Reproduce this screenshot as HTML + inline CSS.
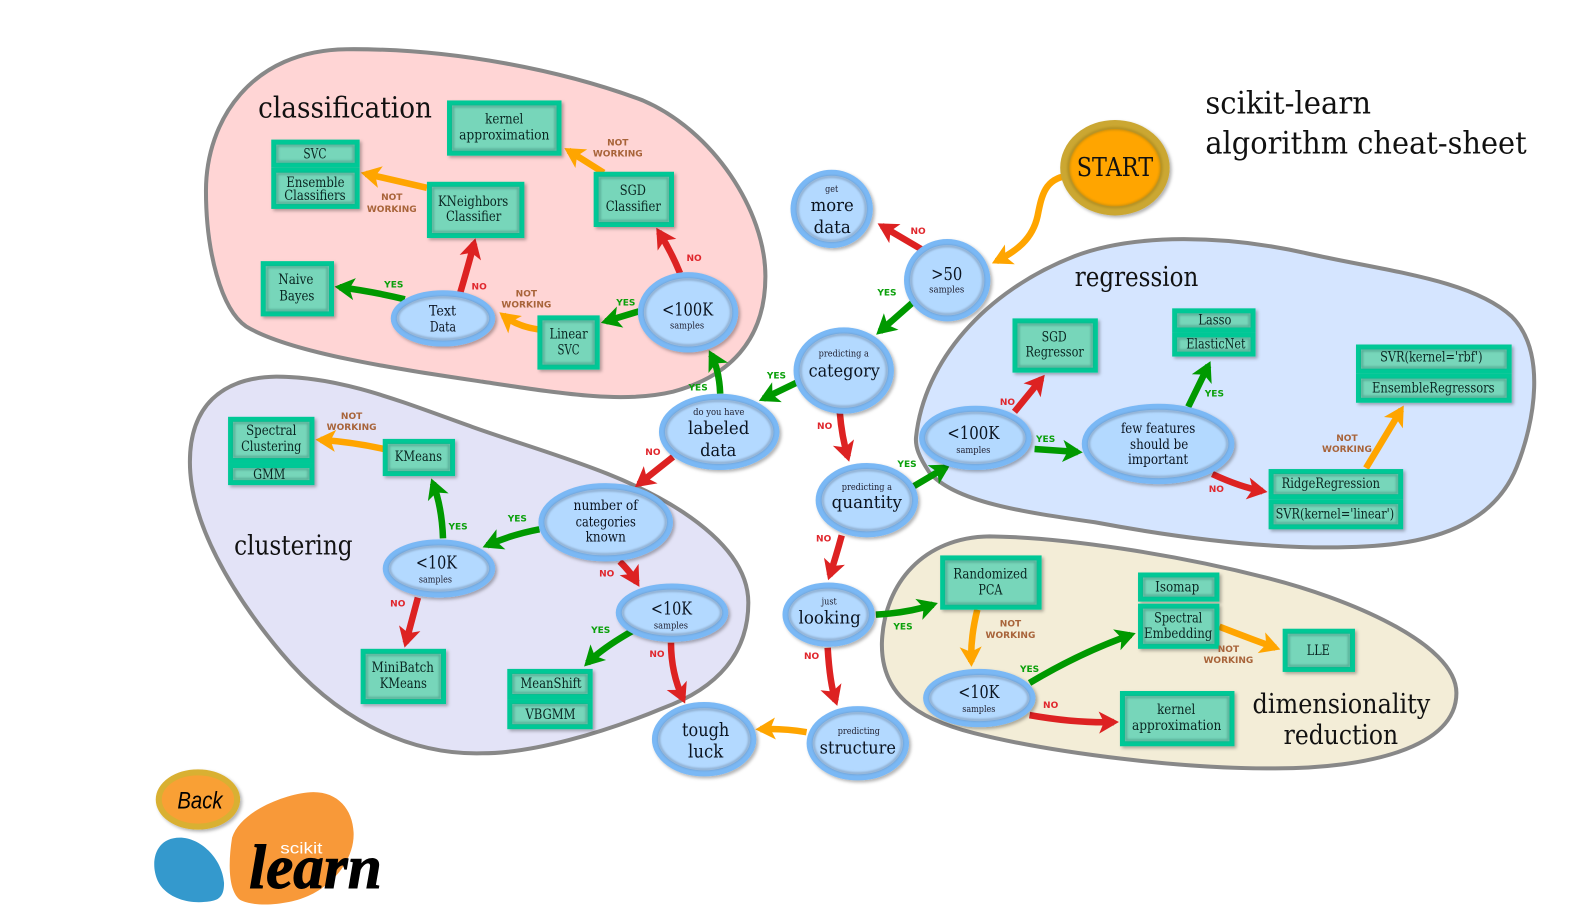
<!DOCTYPE html>
<html><head><meta charset="utf-8"><style>
html,body{margin:0;padding:0;background:#fff}
svg{display:block}
text{font-family:"DejaVu Serif","Liberation Serif",serif;fill:#0b1420;text-anchor:middle}
.t{font-size:29px;fill:#111}
.n{font-size:18px;fill:#0b1420}
.s{font-size:9px;fill:#223}
.m{font-size:14px}
.b{font-size:14px;fill:#0a2622}
.l{font-family:"DejaVu Sans","Liberation Sans",sans-serif;font-weight:bold;font-size:9px}
.y{fill:#0aa00a}.o{fill:#e0272d}.w{fill:#a8643a}
.r{stroke:#888;stroke-width:4}
.a{fill:none;stroke-width:6.500}
.ag{stroke:#009900;marker-end:url(#mg)}
.ar{stroke:#dd2222;marker-end:url(#mr)}
.ao{stroke:#ffa500;marker-end:url(#mo)}
.e{fill:#b3d9ff;stroke:#7ab8f5;stroke-width:6}
.i{fill:none;stroke:#5f7590;stroke-width:2;opacity:.55;filter:url(#bl)}
.x{fill:#77d6ba;stroke:#00c896;stroke-width:5}
.xi{fill:none;stroke:#3d8a78;stroke-width:2;opacity:.6;filter:url(#bl)}
</style></head><body>
<svg width="1575" height="918" viewBox="0 0 1568 914" xmlns="http://www.w3.org/2000/svg">
<defs>
<filter id="ds" x="-20%" y="-20%" width="150%" height="150%"><feDropShadow dx="2" dy="2" stdDeviation="1.5" flood-color="#000" flood-opacity=".3"/></filter>
<filter id="bl" x="-10%" y="-10%" width="120%" height="120%"><feGaussianBlur stdDeviation="1"/></filter>
<marker id="mg" markerUnits="userSpaceOnUse" markerWidth="22" markerHeight="26" refX="15" refY="12" orient="auto" overflow="visible"><path d="M0,1 L20,12 L0,23 L5,12Z" fill="#009900"/></marker>
<marker id="mr" markerUnits="userSpaceOnUse" markerWidth="22" markerHeight="26" refX="15" refY="12" orient="auto" overflow="visible"><path d="M0,1 L20,12 L0,23 L5,12Z" fill="#dd2222"/></marker>
<marker id="mo" markerUnits="userSpaceOnUse" markerWidth="22" markerHeight="26" refX="15" refY="12" orient="auto" overflow="visible"><path d="M0,1 L20,12 L0,23 L5,12Z" fill="#ffa500"/></marker>
</defs>

<!-- regions -->
<path class="r" fill="#ffd5d5" d="M205,190 C205,120 250,50 345,49 C450,48 560,70 640,100 C710,130 762,210 762,275 C762,340 725,375 670,390 C620,402 560,392 480,380 C400,368 290,352 245,325 C220,308 205,250 205,190Z"/>
<path class="r" fill="#e3e3f7" d="M189,460 C189,405 220,376 275,375 C340,375 400,400 470,425 C540,450 620,470 680,510 C725,540 745,570 745,600 C745,650 715,685 660,705 C600,730 530,750 480,750 C400,752 330,710 280,650 C230,590 189,520 189,460Z"/>
<path class="r" fill="#d5e5ff" d="M912,435 C920,360 980,290 1070,255 C1130,232 1220,234 1300,252 C1380,270 1465,278 1505,315 C1540,350 1528,420 1510,465 C1490,515 1440,540 1360,544 C1270,549 1170,535 1090,520 C1020,510 950,500 925,470 C915,455 911,445 912,435Z"/>
<path class="r" fill="#f3edd7" d="M878,640 C880,580 920,535 985,534 C1060,535 1170,552 1260,575 C1340,595 1450,640 1450,690 C1450,745 1360,765 1270,765 C1180,766 1050,750 970,730 C910,715 877,690 878,640Z"/>

<!-- arrows -->
<path class="a ao" d="M1063,175 C1040,178 1037,195 1033,215 C1028,238 1012,250 992,260"/>
<path class="a ar" d="M917,248 L878,225"/>
<path class="a ag" d="M910,300 L876,330"/>
<path class="a ag" d="M793,381 L760,397"/>
<path class="a ar" d="M836,410 Q838,435 844,455"/>
<path class="a ag" d="M717,392 Q716,368 708,353"/>
<path class="a ar" d="M670,455 L636,482"/>
<path class="a ag" d="M636,310 L603,320"/>
<path class="a ar" d="M677,272 Q668,250 656,231"/>
<path class="a ao" d="M536,328 Q515,325 501,314"/>
<path class="a ag" d="M403,298 Q370,290 338,286"/>
<path class="a ar" d="M458,292 Q466,265 472,242"/>
<path class="a ao" d="M425,187 Q395,180 364,173"/>
<path class="a ao" d="M601,172 L566,150"/>
<path class="a ag" d="M537,527 Q510,532 485,543"/>
<path class="a ar" d="M617,559 Q628,570 634,580"/>
<path class="a ag" d="M441,536 Q440,505 431,481"/>
<path class="a ao" d="M382,447 Q350,440 319,438"/>
<path class="a ar" d="M416,595 L404,640"/>
<path class="a ag" d="M630,628 Q600,645 585,660"/>
<path class="a ar" d="M668,640 Q668,670 680,696"/>
<path class="a ag" d="M910,484 L942,465"/>
<path class="a ar" d="M838,533 Q832,555 826,573"/>
<path class="a ag" d="M872,612 Q905,610 929,602"/>
<path class="a ar" d="M824,645 Q826,680 832,698"/>
<path class="a ao" d="M803,729 Q780,725 757,726"/>
<path class="a ar" d="M1010,410 L1037,377"/>
<path class="a ag" d="M1030,447 L1073,450"/>
<path class="a ag" d="M1183,405 L1203,364"/>
<path class="a ar" d="M1207,472 Q1235,485 1257,489"/>
<path class="a ao" d="M1360,466 L1395,408"/>
<path class="a ao" d="M973,607 Q966,635 967,659"/>
<path class="a ag" d="M1025,680 Q1075,650 1126,632"/>
<path class="a ar" d="M1025,712 Q1070,720 1109,719"/>
<path class="a ao" d="M1214,624 Q1245,636 1270,645"/>

<!-- ellipse nodes -->
<g filter="url(#ds)">
<ellipse class="e" cx="828" cy="208" rx="38" ry="36"/>
<ellipse class="e" cx="943" cy="279" rx="40" ry="38"/>
<ellipse class="e" cx="840" cy="369" rx="47" ry="40"/>
<ellipse class="e" cx="716" cy="430" rx="57" ry="35"/>
<ellipse class="e" cx="685" cy="311" rx="47" ry="37"/>
<ellipse class="e" cx="441" cy="317" rx="49" ry="25"/>
<ellipse class="e" cx="603" cy="520" rx="64" ry="36"/>
<ellipse class="e" cx="437" cy="566" rx="53" ry="26"/>
<ellipse class="e" cx="669" cy="610" rx="53" ry="26"/>
<ellipse class="e" cx="863" cy="498" rx="48" ry="34"/>
<ellipse class="e" cx="825" cy="612" rx="43" ry="29"/>
<ellipse class="e" cx="854" cy="740" rx="48" ry="34"/>
<ellipse class="e" cx="701" cy="736" rx="49" ry="34"/>
<ellipse class="e" cx="971" cy="436" rx="53" ry="29"/>
<ellipse class="e" cx="1153" cy="442" rx="73" ry="37"/>
<ellipse class="e" cx="975" cy="695" rx="53" ry="26"/>
<ellipse cx="1110" cy="167" rx="50" ry="43" fill="#ffa500" stroke="#cba733" stroke-width="9"/>
<ellipse cx="197" cy="796" rx="39" ry="27" fill="#f9a035" stroke="#d9b030" stroke-width="6"/>
</g>
<g>
<ellipse class="i" cx="828" cy="208" rx="34" ry="32"/>
<ellipse class="i" cx="943" cy="279" rx="36" ry="34"/>
<ellipse class="i" cx="840" cy="369" rx="43" ry="36"/>
<ellipse class="i" cx="716" cy="430" rx="53" ry="31"/>
<ellipse class="i" cx="685" cy="311" rx="43" ry="33"/>
<ellipse class="i" cx="441" cy="317" rx="45" ry="21"/>
<ellipse class="i" cx="603" cy="520" rx="60" ry="32"/>
<ellipse class="i" cx="437" cy="566" rx="49" ry="22"/>
<ellipse class="i" cx="669" cy="610" rx="49" ry="22"/>
<ellipse class="i" cx="863" cy="498" rx="44" ry="30"/>
<ellipse class="i" cx="825" cy="612" rx="39" ry="25"/>
<ellipse class="i" cx="854" cy="740" rx="44" ry="30"/>
<ellipse class="i" cx="701" cy="736" rx="45" ry="30"/>
<ellipse class="i" cx="971" cy="436" rx="49" ry="25"/>
<ellipse class="i" cx="1153" cy="442" rx="69" ry="33"/>
<ellipse class="i" cx="975" cy="695" rx="49" ry="22"/>
<ellipse class="i" cx="1110" cy="167" rx="46" ry="39" style="stroke:#a07e18;stroke-width:3"/>
</g>

<!-- box nodes -->
<g filter="url(#ds)">
<rect class="x" x="447.500" y="102.500" width="109" height="50"/>
<rect class="x" x="272.500" y="141.500" width="83" height="23"/>
<rect class="x" x="272.500" y="169.500" width="83" height="36"/>
<rect class="x" x="427.500" y="183.500" width="92" height="51"/>
<rect class="x" x="593.500" y="173.500" width="75" height="50"/>
<rect class="x" x="262" y="262.500" width="68" height="50"/>
<rect class="x" x="537.500" y="316.500" width="57" height="49"/>
<rect class="x" x="229.500" y="417.500" width="81" height="41"/>
<rect class="x" x="229.500" y="463.500" width="81" height="17"/>
<rect class="x" x="383.500" y="439.500" width="67" height="32"/>
<rect class="x" x="361.500" y="648.500" width="80" height="50"/>
<rect class="x" x="507.500" y="668.500" width="80" height="25"/>
<rect class="x" x="507.500" y="698.500" width="80" height="25"/>
<rect class="x" x="938.500" y="555.500" width="96" height="49"/>
<rect class="x" x="1135.500" y="572.500" width="76" height="24"/>
<rect class="x" x="1135.500" y="603.500" width="76" height="40"/>
<rect class="x" x="1279.500" y="628.500" width="67" height="38"/>
<rect class="x" x="1117.500" y="690.500" width="109" height="50"/>
<rect class="x" x="1010.500" y="319.500" width="80" height="49"/>
<rect class="x" x="1169.500" y="309.500" width="78" height="19"/>
<rect class="x" x="1169.500" y="333.500" width="78" height="19"/>
<rect class="x" x="1352.500" y="345.500" width="150" height="24"/>
<rect class="x" x="1352.500" y="374.500" width="150" height="24"/>
<rect class="x" x="1265.500" y="469.500" width="129" height="25"/>
<rect class="x" x="1265.500" y="499.500" width="129" height="25"/>
</g>
<g>
<rect class="xi" x="451" y="106" width="102" height="43"/>
<rect class="xi" x="276" y="145" width="76" height="16"/>
<rect class="xi" x="276" y="173" width="76" height="29"/>
<rect class="xi" x="431" y="187" width="85" height="44"/>
<rect class="xi" x="597" y="177" width="68" height="43"/>
<rect class="xi" x="266" y="266" width="60" height="43"/>
<rect class="xi" x="541" y="320" width="50" height="42"/>
<rect class="xi" x="233" y="421" width="74" height="34"/>
<rect class="xi" x="233" y="467" width="74" height="10"/>
<rect class="xi" x="387" y="443" width="60" height="25"/>
<rect class="xi" x="365" y="652" width="73" height="43"/>
<rect class="xi" x="511" y="672" width="73" height="18"/>
<rect class="xi" x="511" y="702" width="73" height="18"/>
<rect class="xi" x="942" y="559" width="89" height="42"/>
<rect class="xi" x="1139" y="576" width="69" height="17"/>
<rect class="xi" x="1139" y="607" width="69" height="33"/>
<rect class="xi" x="1283" y="632" width="60" height="31"/>
<rect class="xi" x="1121" y="694" width="102" height="43"/>
<rect class="xi" x="1014" y="323" width="73" height="42"/>
<rect class="xi" x="1173" y="313" width="71" height="12"/>
<rect class="xi" x="1173" y="337" width="71" height="12"/>
<rect class="xi" x="1356" y="349" width="143" height="17"/>
<rect class="xi" x="1356" y="378" width="143" height="17"/>
<rect class="xi" x="1269" y="473" width="122" height="18"/>
<rect class="xi" x="1269" y="503" width="122" height="18"/>
</g>

<!-- region titles -->
<text class="t" x="343.500" y="117" textLength="173" lengthAdjust="spacingAndGlyphs">classification</text>
<text class="t" x="292" y="552" textLength="118" lengthAdjust="spacingAndGlyphs" style="font-size:27px">clustering</text>
<text class="t" x="1131.500" y="285" textLength="123" lengthAdjust="spacingAndGlyphs" style="font-size:27px">regression</text>
<text class="t" x="1335.500" y="710" textLength="177" lengthAdjust="spacingAndGlyphs" style="font-size:27px">dimensionality</text>
<text class="t" x="1335" y="741" textLength="114" lengthAdjust="spacingAndGlyphs" style="font-size:27px">reduction</text>
<text class="t" x="1282.500" y="113" textLength="165" lengthAdjust="spacingAndGlyphs" style="font-size:31px">scikit-learn</text>
<text class="t" x="1360" y="153" textLength="320" lengthAdjust="spacingAndGlyphs" style="font-size:31px">algorithm cheat-sheet</text>

<!-- ellipse text -->
<text class="s" x="828" y="191" textLength="13" lengthAdjust="spacingAndGlyphs">get</text>
<text class="n" x="828.500" y="210" textLength="43" lengthAdjust="spacingAndGlyphs">more</text>
<text class="n" x="828.500" y="232" textLength="37" lengthAdjust="spacingAndGlyphs">data</text>
<text class="n" x="942.500" y="279" textLength="31" lengthAdjust="spacingAndGlyphs">&gt;50</text>
<text class="s" x="942.500" y="291" textLength="35" lengthAdjust="spacingAndGlyphs">samples</text>
<text class="s" x="840" y="355" textLength="50" lengthAdjust="spacingAndGlyphs">predicting a</text>
<text class="n" x="840.500" y="375" textLength="71" lengthAdjust="spacingAndGlyphs">category</text>
<text class="s" x="715.500" y="413" textLength="51" lengthAdjust="spacingAndGlyphs">do you have</text>
<text class="n" x="715.500" y="432" textLength="61" lengthAdjust="spacingAndGlyphs">labeled</text>
<text class="n" x="715" y="454" textLength="36" lengthAdjust="spacingAndGlyphs">data</text>
<text class="n" x="684.500" y="314" textLength="51" lengthAdjust="spacingAndGlyphs">&lt;100K</text>
<text class="s" x="684" y="327" textLength="34" lengthAdjust="spacingAndGlyphs">samples</text>
<text class="m" x="440.500" y="314" textLength="27" lengthAdjust="spacingAndGlyphs">Text</text>
<text class="m" x="441" y="330" textLength="26" lengthAdjust="spacingAndGlyphs">Data</text>
<text class="m" x="603" y="508" textLength="64" lengthAdjust="spacingAndGlyphs">number of</text>
<text class="m" x="603" y="524" textLength="60" lengthAdjust="spacingAndGlyphs">categories</text>
<text class="m" x="603" y="539" textLength="40" lengthAdjust="spacingAndGlyphs">known</text>
<text class="n" x="434.500" y="566" textLength="41" lengthAdjust="spacingAndGlyphs">&lt;10K</text>
<text class="s" x="433.500" y="580" textLength="33" lengthAdjust="spacingAndGlyphs">samples</text>
<text class="n" x="668.500" y="612" textLength="41" lengthAdjust="spacingAndGlyphs">&lt;10K</text>
<text class="s" x="668" y="626" textLength="34" lengthAdjust="spacingAndGlyphs">samples</text>
<text class="s" x="863" y="488" textLength="50" lengthAdjust="spacingAndGlyphs">predicting a</text>
<text class="n" x="863" y="506" textLength="70" lengthAdjust="spacingAndGlyphs">quantity</text>
<text class="s" x="825.500" y="602" textLength="15" lengthAdjust="spacingAndGlyphs">just</text>
<text class="n" x="826" y="621" textLength="62" lengthAdjust="spacingAndGlyphs">looking</text>
<text class="s" x="855" y="731" textLength="42" lengthAdjust="spacingAndGlyphs">predicting</text>
<text class="n" x="854" y="750" textLength="76" lengthAdjust="spacingAndGlyphs">structure</text>
<text class="n" x="702.500" y="733" textLength="47" lengthAdjust="spacingAndGlyphs" style="font-size:19px">tough</text>
<text class="n" x="702.500" y="754" textLength="35" lengthAdjust="spacingAndGlyphs" style="font-size:19px">luck</text>
<text class="n" x="969" y="437" textLength="52" lengthAdjust="spacingAndGlyphs">&lt;100K</text>
<text class="s" x="969" y="451" textLength="34" lengthAdjust="spacingAndGlyphs">samples</text>
<text class="m" x="1153" y="431" textLength="74" lengthAdjust="spacingAndGlyphs">few features</text>
<text class="m" x="1154" y="447" textLength="58" lengthAdjust="spacingAndGlyphs">should be</text>
<text class="m" x="1153" y="462" textLength="60" lengthAdjust="spacingAndGlyphs">important</text>
<text class="n" x="974.500" y="695" textLength="41" lengthAdjust="spacingAndGlyphs">&lt;10K</text>
<text class="s" x="974.500" y="709" textLength="33" lengthAdjust="spacingAndGlyphs">samples</text>
<text class="n" x="1110" y="175" textLength="76" lengthAdjust="spacingAndGlyphs" style="font-size:26px;fill:#111">START</text>

<!-- box text -->
<text class="b" x="502" y="123" textLength="38" lengthAdjust="spacingAndGlyphs">kernel</text>
<text class="b" x="502" y="139" textLength="90" lengthAdjust="spacingAndGlyphs">approximation</text>
<text class="b" x="313.500" y="158" textLength="23" lengthAdjust="spacingAndGlyphs">SVC</text>
<text class="b" x="314" y="186" textLength="58" lengthAdjust="spacingAndGlyphs">Ensemble</text>
<text class="b" x="313.500" y="199" textLength="61" lengthAdjust="spacingAndGlyphs">Classifiers</text>
<text class="b" x="471" y="205" textLength="70" lengthAdjust="spacingAndGlyphs">KNeighbors</text>
<text class="b" x="471.500" y="220" textLength="55" lengthAdjust="spacingAndGlyphs">Classifier</text>
<text class="b" x="630" y="194" textLength="26" lengthAdjust="spacingAndGlyphs">SGD</text>
<text class="b" x="630.500" y="210" textLength="55" lengthAdjust="spacingAndGlyphs">Classifier</text>
<text class="b" x="294.500" y="283" textLength="35" lengthAdjust="spacingAndGlyphs">Naive</text>
<text class="b" x="295.500" y="299" textLength="35" lengthAdjust="spacingAndGlyphs">Bayes</text>
<text class="b" x="566" y="337" textLength="38" lengthAdjust="spacingAndGlyphs">Linear</text>
<text class="b" x="566" y="353" textLength="22" lengthAdjust="spacingAndGlyphs">SVC</text>
<text class="b" x="270" y="433" textLength="50" lengthAdjust="spacingAndGlyphs">Spectral</text>
<text class="b" x="270" y="449" textLength="60" lengthAdjust="spacingAndGlyphs">Clustering</text>
<text class="b" x="268" y="477" textLength="32" lengthAdjust="spacingAndGlyphs">GMM</text>
<text class="b" x="416.500" y="459" textLength="47" lengthAdjust="spacingAndGlyphs">KMeans</text>
<text class="b" x="401" y="669" textLength="62" lengthAdjust="spacingAndGlyphs">MiniBatch</text>
<text class="b" x="401.500" y="685" textLength="47" lengthAdjust="spacingAndGlyphs">KMeans</text>
<text class="b" x="548.500" y="685" textLength="61" lengthAdjust="spacingAndGlyphs">MeanShift</text>
<text class="b" x="548" y="716" textLength="50" lengthAdjust="spacingAndGlyphs">VBGMM</text>
<text class="b" x="986" y="576" textLength="74" lengthAdjust="spacingAndGlyphs">Randomized</text>
<text class="b" x="986" y="592" textLength="24" lengthAdjust="spacingAndGlyphs">PCA</text>
<text class="b" x="1172" y="589" textLength="44" lengthAdjust="spacingAndGlyphs">Isomap</text>
<text class="b" x="1173" y="620" textLength="48" lengthAdjust="spacingAndGlyphs">Spectral</text>
<text class="b" x="1173" y="635" textLength="68" lengthAdjust="spacingAndGlyphs">Embedding</text>
<text class="b" x="1312.500" y="652" textLength="23" lengthAdjust="spacingAndGlyphs">LLE</text>
<text class="b" x="1171" y="711" textLength="38" lengthAdjust="spacingAndGlyphs">kernel</text>
<text class="b" x="1171.500" y="727" textLength="89" lengthAdjust="spacingAndGlyphs">approximation</text>
<text class="b" x="1049.500" y="340" textLength="25" lengthAdjust="spacingAndGlyphs">SGD</text>
<text class="b" x="1050" y="355" textLength="58" lengthAdjust="spacingAndGlyphs">Regressor</text>
<text class="b" x="1209.500" y="323" textLength="33" lengthAdjust="spacingAndGlyphs">Lasso</text>
<text class="b" x="1210.500" y="347" textLength="59" lengthAdjust="spacingAndGlyphs">ElasticNet</text>
<text class="b" x="1425" y="360" textLength="102" lengthAdjust="spacingAndGlyphs">SVR(kernel='rbf')</text>
<text class="b" x="1427" y="391" textLength="122" lengthAdjust="spacingAndGlyphs">EnsembleRegressors</text>
<text class="b" x="1325" y="486" textLength="98" lengthAdjust="spacingAndGlyphs">RidgeRegression</text>
<text class="b" x="1329" y="516" textLength="118" lengthAdjust="spacingAndGlyphs">SVR(kernel='linear')</text>

<!-- connector labels -->
<g class="l">
<text class="l y" x="392" y="286">YES</text><text class="l y" x="623" y="304">YES</text><text class="l y" x="695" y="389">YES</text><text class="l y" x="773" y="377">YES</text><text class="l y" x="883" y="294">YES</text><text class="l y" x="903" y="465">YES</text><text class="l y" x="1041" y="440">YES</text><text class="l y" x="1209" y="395">YES</text><text class="l y" x="456" y="527">YES</text><text class="l y" x="515" y="519">YES</text><text class="l y" x="598" y="630">YES</text><text class="l y" x="899" y="627">YES</text><text class="l y" x="1025" y="669">YES</text>
<text class="l o" x="914" y="233">NO</text><text class="l o" x="691" y="260">NO</text><text class="l o" x="477" y="288">NO</text><text class="l o" x="821" y="427">NO</text><text class="l o" x="650" y="453">NO</text><text class="l o" x="1003" y="403">NO</text><text class="l o" x="1211" y="490">NO</text><text class="l o" x="820" y="539">NO</text><text class="l o" x="604" y="574">NO</text><text class="l o" x="396" y="604">NO</text><text class="l o" x="654" y="654">NO</text><text class="l o" x="808" y="656">NO</text><text class="l o" x="1046" y="705">NO</text>
<text class="l w" x="615" y="145">NOT</text><text class="l w" x="615" y="156">WORKING</text>
<text class="l w" x="390" y="199">NOT</text><text class="l w" x="390" y="211">WORKING</text>
<text class="l w" x="524" y="295">NOT</text><text class="l w" x="524" y="306">WORKING</text>
<text class="l w" x="350" y="417">NOT</text><text class="l w" x="350" y="428">WORKING</text>
<text class="l w" x="1006" y="624">NOT</text><text class="l w" x="1006" y="635">WORKING</text>
<text class="l w" x="1223" y="649">NOT</text><text class="l w" x="1223" y="660">WORKING</text>
<text class="l w" x="1341" y="439">NOT</text><text class="l w" x="1341" y="450">WORKING</text>
</g>

<!-- logo -->
<path fill="#3499cd" transform="translate(-1,-1)" d="M180,835 C200,835 222,855 224,880 C224,895 218,898 205,899 C185,901 165,893 158,878 C150,860 155,835 180,835Z"/>
<path fill="#f89939" transform="translate(-1,-1)" d="M307,790 C335,787 352,805 353,830 C354,855 335,880 310,892 C290,902 255,905 240,897 C228,888 228,860 232,835 C240,810 280,793 307,790Z"/>
<text x="300" y="850" style="font-family:'Liberation Sans',sans-serif;font-size:16px;fill:#fff" textLength="42" lengthAdjust="spacingAndGlyphs">scikit</text>
<text x="314" y="884" textLength="132" lengthAdjust="spacingAndGlyphs" style="font-family:'Liberation Serif',serif;font-style:italic;font-weight:bold;font-size:62px;fill:#000;stroke:#000;stroke-width:1">learn</text>
<text x="199" y="805" textLength="45" lengthAdjust="spacingAndGlyphs" style="font-family:'Liberation Sans',sans-serif;font-style:italic;font-size:24px;fill:#000">Back</text>
</svg>
</body></html>
